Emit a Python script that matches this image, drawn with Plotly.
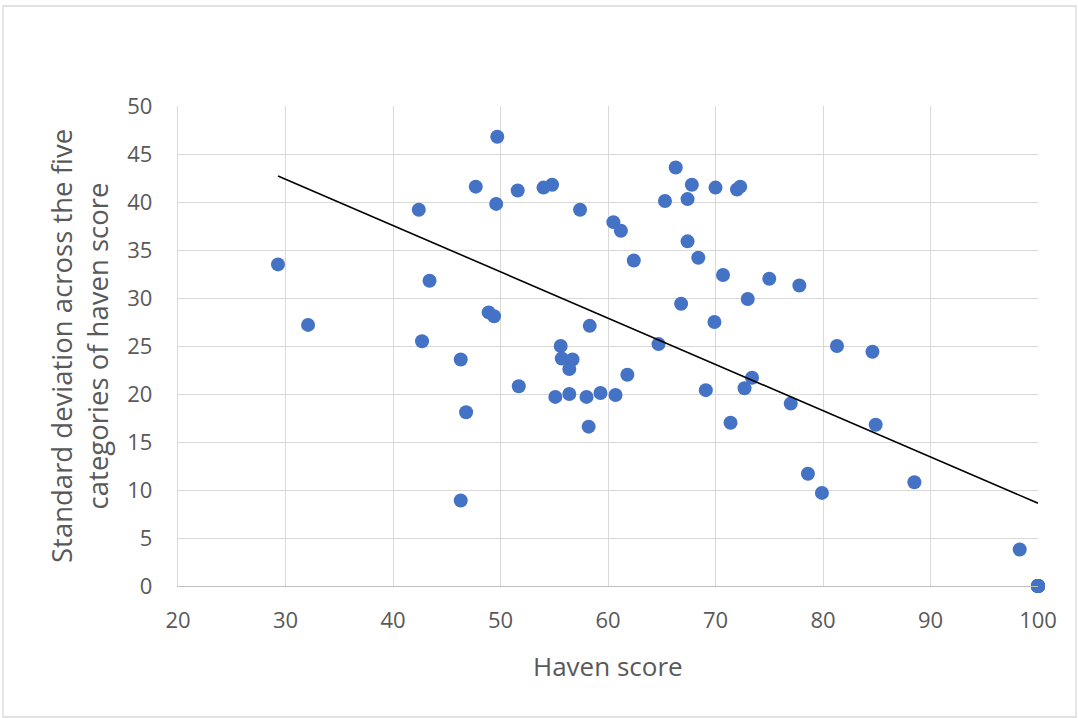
import numpy as np
import plotly.graph_objects as go

# Haven score (x) and standard deviation across five categories (y)
# (several jurisdictions overlap at haven score 100 / SD 0)
haven_score = [29.3, 32.1, 42.4, 43.4, 42.7, 46.3, 46.8, 46.3, 47.7, 48.9,
               49.4, 49.7, 49.6, 51.6, 51.7, 54.0, 54.8, 55.1, 55.6, 55.7,
               56.7, 56.4, 56.4, 57.4, 58.0, 58.3, 58.2, 59.3, 60.5, 60.7,
               61.2, 61.8, 62.4, 64.7, 65.3, 66.3, 66.8, 67.4, 67.4, 67.8,
               68.4, 69.1, 69.9, 70.0, 70.7, 71.4, 72.0, 72.3, 72.7, 73.0,
               73.4, 75.0, 77.0, 77.8, 78.6, 79.9, 81.3, 84.6, 84.9, 88.5,
               98.3, 100.0, 100.0, 100.0, 100.0, 100.0, 100.0, 100.0, 100.0,
               100.0]
std_dev = [33.5, 27.2, 39.2, 31.8, 25.5, 23.6, 18.1, 8.9, 41.6, 28.5,
           28.1, 46.8, 39.8, 41.2, 20.8, 41.5, 41.8, 19.7, 25.0, 23.7,
           23.6, 22.6, 20.0, 39.2, 19.7, 27.1, 16.6, 20.1, 37.9, 19.9,
           37.0, 22.0, 33.9, 25.2, 40.1, 43.6, 29.4, 35.9, 40.3, 41.8,
           34.2, 20.4, 27.5, 41.5, 32.4, 17.0, 41.3, 41.6, 20.6, 29.9,
           21.7, 32.0, 19.0, 31.3, 11.7, 9.7, 25.0, 24.4, 16.8, 10.8,
           3.8, 0.0, 0.0, 0.0, 0.0, 0.0, 0.0, 0.0, 0.0,
           0.0]
x_ticks = [20, 30, 40, 50, 60, 70, 80, 90, 100]
y_ticks = [0, 5, 10, 15, 20, 25, 30, 35, 40, 45, 50]

xs = np.array(haven_score)
ys = np.array(std_dev)
slope, intercept = np.polyfit(xs, ys, 1)
trend_x = [xs.min(), xs.max()]
trend_y = [slope * v + intercept for v in trend_x]

FONT = "Open Sans, Lato, DejaVu Sans, sans-serif"
GREY = "#595959"

fig = go.Figure()
fig.add_trace(go.Scatter(
    x=haven_score, y=std_dev, mode="markers",
    marker=dict(color="#4472C4", size=14, line=dict(width=0)),
    showlegend=False, cliponaxis=False,
))
fig.add_trace(go.Scatter(
    x=trend_x, y=trend_y, mode="lines",
    line=dict(color="black", width=1.6),
    showlegend=False,
))

fig.update_layout(
    width=1078, height=718,
    margin=dict(l=178, r=40, t=106, b=132),
    paper_bgcolor="white", plot_bgcolor="white",
    font=dict(family=FONT, color=GREY, size=22),
    xaxis=dict(
        range=[20, 100], tickvals=x_ticks, ticktext=[str(v) for v in x_ticks],
        showgrid=True, gridcolor="#D9D9D9", gridwidth=1.3,
        zeroline=False, showline=True, linecolor="#BFBFBF", linewidth=1.3,
        ticks="", ticklabelstandoff=14,
        tickfont=dict(size=22, color=GREY, family=FONT),
    ),
    yaxis=dict(
        range=[0, 50], tickvals=y_ticks, ticktext=[str(v) for v in y_ticks],
        showgrid=True, gridcolor="#D9D9D9", gridwidth=1.3,
        zeroline=False, showline=True, linecolor="#D9D9D9", linewidth=1.3,
        ticks="", ticklabelstandoff=20,
        tickfont=dict(size=22, color=GREY, family=FONT),
    ),
    annotations=[
        dict(text="Haven score", xref="paper", yref="paper", x=0.5, y=0,
             yshift=-80, xanchor="center", yanchor="middle", showarrow=False,
             font=dict(size=26, color=GREY, family=FONT)),
        dict(text="Standard deviation across the five<br>categories of haven score",
             xref="paper", yref="paper", x=0, y=0.5, xshift=-99,
             xanchor="center", yanchor="middle", textangle=-90, showarrow=False,
             font=dict(size=27.5, color=GREY, family=FONT)),
    ],
    shapes=[
        dict(type="rect", xref="paper", yref="paper",
             x0=-175 / 860, x1=1 + 38 / 860, y0=-131 / 480, y1=1 + 100 / 480,
             line=dict(color="#D9D9D9", width=1.3), fillcolor="rgba(0,0,0,0)",
             layer="below"),
    ],
)

fig.write_html("out.html", config={"displayModeBar": False},
               post_script="document.body.style.margin='0';")
